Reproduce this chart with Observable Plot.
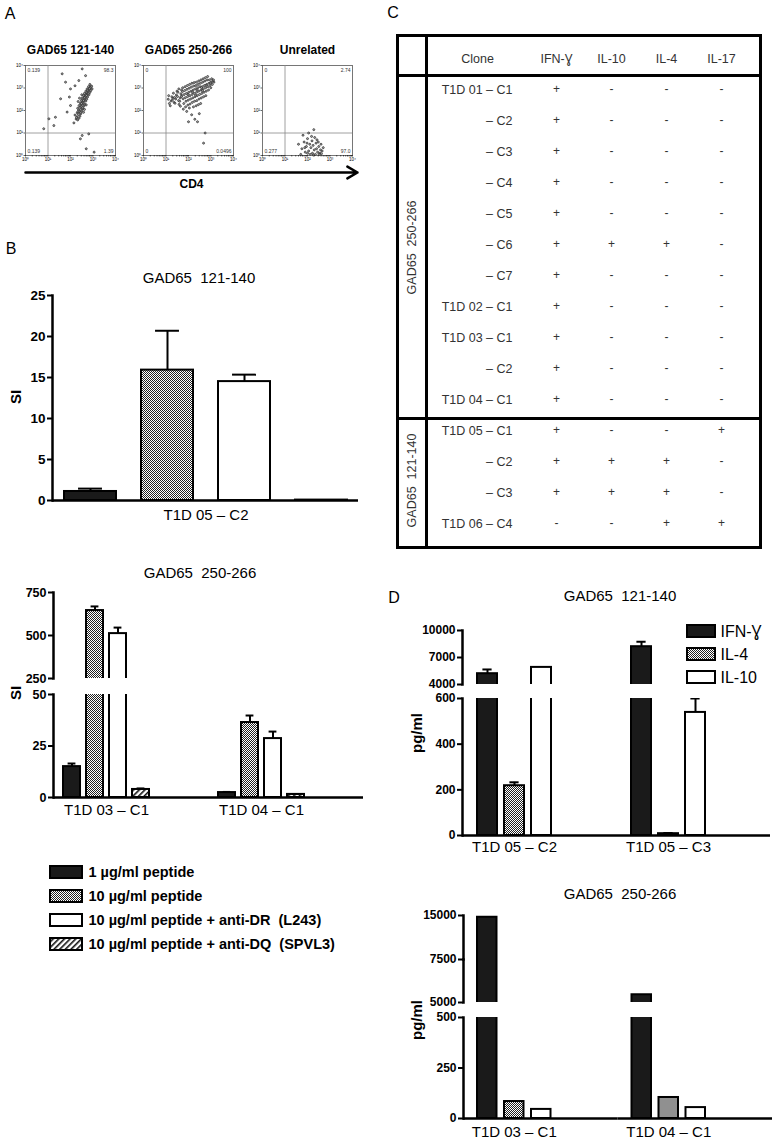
<!DOCTYPE html>
<html>
<head>
<meta charset="utf-8">
<script src="https://cdn.jsdelivr.net/npm/d3@7"></script>
<script src="https://cdn.jsdelivr.net/npm/@observablehq/plot@0.6"></script>
<style>
html,body{margin:0;padding:0;background:#fff;}
#root{position:relative;width:778px;height:1142px;overflow:hidden;background:#fff;font-family:"Liberation Sans",Arial,Helvetica,sans-serif;}
</style>
</head>
<body>
<svg width="0" height="0" style="position:absolute">
<defs>
<pattern id="pCheck" width="2" height="2" patternUnits="userSpaceOnUse"><rect width="2" height="2" fill="#fff"/><rect x="0" y="0" width="1" height="1" fill="#222"/><rect x="1" y="1" width="1" height="1" fill="#222"/></pattern>
<pattern id="pHatch" width="4" height="4" patternUnits="userSpaceOnUse" patternTransform="rotate(45)"><rect width="4" height="4" fill="#fff"/><rect width="1.6" height="4" fill="#111"/></pattern>
</defs>
</svg>
<div id="root"></div>
<script>
// ================= DATA =================
// Panel A – flow cytometry (log10 coordinates of events)
const flowTitles = ["GAD65 121-140", "GAD65 250-266", "Unrelated"];
const flowCorners = [["0.139","98.3","0.139","1.39"],["0","100","0","0.0496"],["0","2.74","0.277","97.0"]];
const flowAxisLabel = "CD4";
const flowGAD121 = [
[2.25,1.62],[2.32,1.58],[2.38,1.66],[2.28,1.72],[2.42,1.75],[2.20,1.80],[2.35,1.82],[2.46,1.86],[2.30,1.90],[2.40,1.95],
[2.50,1.98],[2.36,2.02],[2.45,2.05],[2.55,2.08],[2.32,2.10],[2.42,2.14],[2.50,2.18],[2.60,2.20],[2.38,2.22],[2.47,2.26],
[2.56,2.30],[2.64,2.28],[2.44,2.33],[2.52,2.38],[2.60,2.40],[2.68,2.42],[2.48,2.45],[2.56,2.48],[2.64,2.52],[2.72,2.50],
[2.52,2.56],[2.60,2.60],[2.68,2.62],[2.76,2.60],[2.58,2.68],[2.66,2.70],[2.74,2.72],[2.82,2.70],[2.62,2.76],[2.70,2.80],
[2.78,2.82],[2.86,2.80],[2.68,2.86],[2.76,2.90],[2.84,2.92],[2.90,2.88],[2.74,2.96],[2.82,3.00],[2.90,3.02],[2.96,2.96],
[2.80,3.06],[2.88,3.10],[2.94,3.08],[2.86,3.16],[2.50,2.70],[2.40,2.55],[2.34,2.40],[2.58,1.92],[2.62,2.05],[2.70,2.25],
[2.27,1.68],[2.44,1.90],[2.53,2.12],[2.49,2.31],[2.58,2.44],[2.63,2.57],[2.71,2.67],[2.79,2.77],[2.85,2.97],[2.33,1.95],
[1.63,3.63],[2.52,3.85],[1.78,3.26],[2.00,2.96],[2.37,3.33],[1.56,2.52],[1.33,1.70],[1.04,1.63],[0.81,1.19],[1.26,1.33],
[2.52,0.89],[2.81,0.96],[2.44,0.74],[1.85,1.93],[2.00,2.22],[2.67,3.55],[2.20,3.10],[1.95,2.60],[2.15,1.45],[2.70,0.30],[3.05,0.15]
];
const flowGAD250 = [
[1.10,2.50],[1.15,2.31],[1.12,2.66],[1.22,2.42],[1.26,2.61],[1.19,2.21],[1.31,2.54],[1.36,2.36],[1.33,2.77],[1.28,2.46],
[1.43,2.51],[1.46,2.69],[1.40,2.32],[1.49,2.86],[1.51,2.62],[1.56,2.44],[1.53,2.81],[1.58,2.27],[1.57,2.96],
[1.63,2.56],[1.66,2.74],[1.61,2.41],[1.69,2.91],[1.64,2.19],[1.71,2.66],[1.76,2.52],[1.73,2.84],[1.79,2.31],[1.74,3.01],[1.77,2.06],
[1.81,2.71],[1.86,2.57],[1.83,2.89],[1.89,2.41],[1.85,3.06],[1.87,2.16],[1.91,2.76],[1.96,2.62],[1.93,2.94],[1.99,2.46],[1.95,3.11],[1.97,2.24],[1.92,1.96],
[2.01,2.81],[2.06,2.66],[2.03,2.99],[2.09,2.51],[2.05,3.16],[2.07,2.29],[2.04,2.11],[2.11,2.86],[2.16,2.71],[2.13,3.04],[2.19,2.56],[2.15,3.21],[2.17,2.36],[2.14,1.81],
[2.21,2.91],[2.26,2.76],[2.23,3.09],[2.29,2.61],[2.25,3.24],[2.27,2.41],[2.22,2.16],[2.28,1.61],[2.31,2.96],[2.36,2.81],[2.33,3.11],[2.39,2.66],[2.35,3.26],[2.37,2.44],[2.34,2.21],
[2.41,3.01],[2.46,2.86],[2.43,3.16],[2.49,2.71],[2.45,3.31],[2.47,2.51],[2.44,2.26],[2.48,1.86],[2.51,3.06],[2.56,2.91],[2.53,3.21],[2.59,2.76],[2.55,3.36],[2.57,2.56],[2.54,2.31],
[2.61,3.06],[2.66,2.96],[2.63,3.26],[2.69,2.81],[2.65,3.41],[2.67,2.61],[2.71,3.11],[2.76,3.01],[2.73,3.31],[2.79,2.86],[2.75,3.46],[2.77,2.66],
[2.81,3.16],[2.86,3.06],[2.83,3.36],[2.89,2.91],[2.85,3.51],[2.91,3.21],[2.96,3.11],[2.93,3.36],[2.99,3.01],[3.01,3.26],[3.06,3.16],[3.03,3.41],[3.09,3.31],[3.13,3.26],[3.11,3.36],
[1.38,2.58],[1.68,2.62],[1.98,2.72],[2.18,2.82],[2.38,2.92],[2.58,3.02],[2.78,3.12],[2.98,3.22],[2.62,2.88],[2.32,2.68],
[2.74,1.00],[2.67,0.55],[2.00,1.50],[2.40,1.50]
];
const flowUnrelated = [
[1.60,0.50],[1.75,0.30],[1.85,0.60],[1.90,0.15],[1.95,0.40],[2.00,0.75],[2.05,0.20],[2.10,0.50],[2.12,0.05],[2.15,0.35],
[2.20,0.65],[2.22,0.10],[2.25,0.45],[2.30,0.25],[2.32,0.80],[2.35,0.05],[2.38,0.55],[2.40,0.30],[2.45,0.15],[2.48,0.60],
[2.50,0.40],[2.55,0.10],[2.58,0.25],[2.60,0.50],[2.65,0.20],[2.70,0.35],[1.80,0.90],[2.05,1.00],[2.28,1.15],[1.70,0.05],
[2.00,0.10],[2.18,0.85],[2.42,0.70],[1.98,0.55],[2.26,0.02],[2.52,0.05],[1.88,0.35],[2.62,0.08]
];

// Panel B – proliferation (SI)
const condsB = ["1 µg/ml peptide","10 µg/ml peptide","10 µg/ml peptide + anti-DR  (L243)","10 µg/ml peptide + anti-DQ  (SPVL3)"];
const fillsB = ["#1a1a1a","url(#pCheck)","#ffffff","url(#pHatch)"];
const bTopTitle = "GAD65  121-140";
const bTopGroups = ["T1D 05 – C2"];
const bTopValues = [[1.1, 15.9, 14.5, 0.05]];
const bTopErrors = [[0.35, 4.8, 0.85, 0]];
const bBotTitle = "GAD65  250-266";
const bBotGroups = ["T1D 03 – C1","T1D 04 – C1"];
const bBotValues = [[15.0, 645, 511, 3.9],[2.4, 36.4, 28.6, 1.5]];
const bBotErrors = [[1.5, 24, 35, 0.5],[0.3, 3.4, 3.4, 0.2]];

// Panel C – cytokine table
const tableCols = ["Clone","IFN-Ɣ","IL-10","IL-4","IL-17"];
const tableClones = ["T1D 01 – C1","– C2","– C3","– C4","– C5","– C6","– C7","T1D 02 – C1","T1D 03 – C1","– C2","T1D 04 – C1","T1D 05 – C1","– C2","– C3","T1D 06 – C4"];
const tableIFN  = ["+","+","+","+","+","+","+","+","+","+","+","+","+","+","-"];
const tableIL10 = ["-","-","-","-","-","+","-","-","-","-","-","-","+","+","-"];
const tableIL4  = ["-","-","-","-","-","+","-","-","-","-","-","-","+","+","+"];
const tableIL17 = ["-","-","-","-","-","-","-","-","-","-","-","+","-","-","+"];
const tableGroups = ["GAD65  250-266","GAD65  121-140"];
const tableGroupSizes = [11, 4];

// Panel D – cytokine secretion (pg/ml)
const condsD = ["IFN-Ɣ","IL-4","IL-10"];
const fillsD = ["#1a1a1a","url(#pCheck)","#ffffff"];
const dTopTitle = "GAD65  121-140";
const dTopGroups = ["T1D 05 – C2","T1D 05 – C3"];
const dTopValues = [[5200, 218, 5900],[8200, 8, 539]];
const dTopErrors = [[470, 15, 0],[550, 3, 61]];
const dBotTitle = "GAD65  250-266";
const dBotGroups = ["T1D 03 – C1","T1D 04 – C1"];
const dBotValues = [[14700, 84, 45],[5450, 104, 54]];
const dBotErrors = [[0, 0, 0],[0, 0, 0]];

// ================= HELPERS =================
const FONT = '"Liberation Sans", Arial, Helvetica, sans-serif';
const root = document.getElementById("root");

function label(text, cx, cy, {size = 15, weight = "normal", rotate = 0, color = "#000"} = {}) {
  const d = document.createElement("div");
  d.textContent = text;
  Object.assign(d.style, {position: "absolute", left: cx + "px", top: cy + "px",
    transform: `translate(-50%,-50%) rotate(${rotate}deg)`, fontSize: size + "px", fontWeight: weight,
    whiteSpace: "pre", lineHeight: "1", fontFamily: FONT, color});
  root.appendChild(d);
}

function framed(opts, f, m) {
  const svg = Plot.plot({
    ...opts,
    width: m.l + (f.x1 - f.x0) + m.r,
    height: m.t + (f.y1 - f.y0) + m.b,
    marginLeft: m.l, marginRight: m.r, marginTop: m.t, marginBottom: m.b,
    style: {background: "transparent", overflow: "visible", fontFamily: FONT, color: "#000", maxWidth: "none"}
  });
  svg.style.position = "absolute";
  svg.style.left = (f.x0 - m.l) + "px";
  svg.style.top = (f.y0 - m.t) + "px";
  root.appendChild(svg);
  return svg;
}

// ================= PANEL A =================
const supers = ["⁰","¹","²","³","⁴"];
const logTicks = d3.scaleLog().domain([1, 1e4]).ticks();
const powFmt = d => { const e = Math.log10(d); return Math.abs(e - Math.round(e)) < 1e-9 ? "10" + supers[Math.round(e)] : ""; };
const cornerAnchors = ["top-left","top-right","bottom-left","bottom-right"];

function flowPlot(points, title, corners, f) {
  framed({
    x: {type: "log", domain: [1, 1e4]},
    y: {type: "log", domain: [1, 1e4]},
    marks: [
      Plot.frame({stroke: "#555", strokeWidth: 0.8}),
      Plot.ruleX([10], {stroke: "#888", strokeWidth: 0.8}),
      Plot.ruleY([10], {stroke: "#888", strokeWidth: 0.8}),
      Plot.dot(points, {x: d => 10 ** d[0], y: d => 10 ** d[1], r: 1, stroke: "#222", strokeWidth: 0.7, fill: "#aaa"}),
      Plot.axisX({ticks: logTicks, tickFormat: powFmt, tickSize: 1.5, tickPadding: 1, fontSize: 4.5, strokeWidth: 0.6, label: null}),
      Plot.axisY({ticks: [1, 10, 100, 1000, 10000], tickFormat: powFmt, tickSize: 1.5, tickPadding: 1, fontSize: 4.5, strokeWidth: 0.6, label: null}),
      ...corners.map((c, i) => Plot.text([c], {frameAnchor: cornerAnchors[i], dx: i % 2 ? -2 : 2, dy: i < 2 ? 3 : -3, fontSize: 5, fill: "#333"})),
      Plot.text([title], {frameAnchor: "top", dy: -15, lineAnchor: "middle", fontSize: 12, fontWeight: "bold"})
    ]
  }, f, {l: 12, t: 24, r: 4, b: 9});
}
flowPlot(flowGAD121, flowTitles[0], flowCorners[0], {x0: 25, y0: 65, x1: 115, y1: 155});
flowPlot(flowGAD250, flowTitles[1], flowCorners[1], {x0: 143, y0: 65, x1: 233, y1: 155});
flowPlot(flowUnrelated, flowTitles[2], flowCorners[2], {x0: 262, y0: 65, x1: 352, y1: 155});

framed({
  x: {domain: [0, 1], axis: null}, y: {domain: [-1, 1], axis: null},
  marks: [
    Plot.arrow([0], {x1: 0, x2: 1, y1: 0, y2: 0, strokeWidth: 2.5, headLength: 7}),
    Plot.text([flowAxisLabel], {frameAnchor: "bottom", lineAnchor: "middle", fontSize: 12, fontWeight: "bold"})
  ]
}, {x0: 25, y0: 160, x1: 357, y1: 184}, {l: 0, t: 0, r: 4, b: 8});

// ================= BAR SECTIONS (B, D) =================
function bandParams(facetW, n, step, bw, start) {
  const pi = 1 - bw / step;
  const po = (facetW / step - n + pi) / 2;
  const align = start / (facetW - step * (n - pi));
  return {paddingInner: pi, paddingOuter: po, align, round: false};
}

const MT = 6;
function barSection({groups, conds, fills, values, errors, frame, y, ticks, band, labels, labelDy, tickFont, baseline}) {
  const data = groups.flatMap((g, i) => conds.map((c, j) => ({group: g, cond: c, value: values[i][j], err: errors[i][j]})));
  const errData = data.filter(d => d.err > 0);
  const facetW = (frame.x1 - frame.x0) / groups.length;
  const midIdx = Math.floor((conds.length - 1) / 2);
  const labelDx = conds.length % 2 === 0 ? band.step / 2 : 0;
  return framed({
    fx: {domain: groups, padding: 0, round: false, axis: null},
    x: {domain: conds, ...bandParams(facetW, conds.length, band.step, band.bw, band.start), axis: null},
    y,
    color: {domain: conds, range: fills},
    marks: [
      Plot.barY(data, {fx: "group", x: "cond", y1: 0, y2: "value", fill: "cond", stroke: "#000", strokeWidth: 2, clip: true}),
      Plot.ruleX(errData, {fx: "group", x: "cond", y1: "value", y2: d => d.value + d.err, stroke: "#000", strokeWidth: 2, clip: true}),
      Plot.tickY(errData, {fx: "group", x: "cond", y: d => d.value + d.err, stroke: "#000", strokeWidth: 2, inset: band.bw * 0.27, clip: true}),
      ticks.length ? Plot.axisY({ticks, tickSize: 5, tickPadding: 2, strokeWidth: 2, fontSize: tickFont, fontWeight: "bold", label: null, tickFormat: d => String(d)}) : null,
      Plot.frame({anchor: "left", facetAnchor: "left", strokeWidth: 2.5}),
      baseline ? Plot.ruleY([0], {strokeWidth: 2.5}) : null,
      labels ? Plot.text(groups, {fx: d => d, x: () => conds[midIdx], text: d => d, frameAnchor: "bottom", lineAnchor: "middle", dy: labelDy, dx: labelDx, fontSize: 15}) : null
    ]
  }, frame, {l: 45, t: MT, r: 6, b: labels ? 28 : 4});
}

// Panel B top
barSection({groups: bTopGroups, conds: condsB, fills: fillsB, values: bTopValues, errors: bTopErrors,
  frame: {x0: 52, y0: 295, x1: 358, y1: 500}, y: {domain: [0, 25], axis: null}, ticks: [0, 5, 10, 15, 20, 25],
  band: {step: 77, bw: 52, start: 12}, labels: true, labelDy: 15, tickFont: 13.5, baseline: true});
// Panel B bottom (broken axis)
barSection({groups: bBotGroups, conds: condsB, fills: fillsB, values: bBotValues, errors: bBotErrors,
  frame: {x0: 53, y0: 592, x1: 363, y1: 678}, y: {domain: [250, 750], axis: null}, ticks: [250, 500, 750],
  band: {step: 23, bw: 17, start: 10}, labels: false, tickFont: 12.5, baseline: false});
barSection({groups: bBotGroups, conds: condsB, fills: fillsB, values: bBotValues, errors: bBotErrors,
  frame: {x0: 53, y0: 694, x1: 363, y1: 797}, y: {domain: [0, 50], axis: null}, ticks: [0, 25, 50],
  band: {step: 23, bw: 17, start: 10}, labels: true, labelDy: 13, tickFont: 12.5, baseline: true});
// Panel D top
barSection({groups: dTopGroups, conds: condsD, fills: fillsD, values: dTopValues, errors: dTopErrors,
  frame: {x0: 462, y0: 630, x1: 770, y1: 684}, y: {domain: [4000, 10000], axis: null}, ticks: [4000, 7000, 10000],
  band: {step: 27, bw: 20, start: 15}, labels: false, tickFont: 12, baseline: false});
barSection({groups: dTopGroups, conds: condsD, fills: fillsD, values: dTopValues, errors: dTopErrors,
  frame: {x0: 462, y0: 698, x1: 770, y1: 835}, y: {domain: [0, 600], axis: null}, ticks: [0, 200, 400, 600],
  band: {step: 27, bw: 20, start: 15}, labels: true, labelDy: 12, tickFont: 12, baseline: true});
// Panel D bottom (upper broken segment has two linear pieces: 5000–7500 and 7500–15000)
barSection({groups: dBotGroups, conds: condsD, fills: fillsD, values: dBotValues, errors: dBotErrors,
  frame: {x0: 463, y0: 915, x1: 772, y1: 959}, y: {domain: [7500, 15000], axis: null}, ticks: [7500, 15000],
  band: {step: 27, bw: 19.5, start: 14}, labels: false, tickFont: 12, baseline: false});
barSection({groups: dBotGroups, conds: condsD, fills: fillsD, values: dBotValues, errors: dBotErrors,
  frame: {x0: 463, y0: 959, x1: 772, y1: 1002}, y: {domain: [5000, 7500], axis: null}, ticks: [5000],
  band: {step: 27, bw: 19.5, start: 14}, labels: false, tickFont: 12, baseline: false});
barSection({groups: dBotGroups, conds: condsD, fills: fillsD, values: dBotValues, errors: dBotErrors,
  frame: {x0: 463, y0: 1017, x1: 772, y1: 1118}, y: {domain: [0, 500], axis: null}, ticks: [0, 250, 500],
  band: {step: 27, bw: 19.5, start: 14}, labels: true, labelDy: 14, tickFont: 12, baseline: true});

// ================= LEGENDS =================
function legendPlot(labels, fills, f, {fontSize, fontWeight, dx, r}) {
  framed({
    x: {domain: [""], padding: 0, axis: null},
    y: {domain: labels, paddingInner: 0.5, paddingOuter: 0.25, axis: null},
    color: {domain: labels, range: fills},
    marks: [
      Plot.cell(labels, {x: () => "", y: d => d, fill: d => d, stroke: "#000", strokeWidth: 2}),
      Plot.text(labels, {y: d => d, frameAnchor: "right", dx, textAnchor: "start", fontSize, fontWeight})
    ]
  }, f, {l: 2, t: 2, r, b: 2});
}
legendPlot(condsB, fillsB, {x0: 50, y0: 860, x1: 82, y1: 956}, {fontSize: 14.5, fontWeight: "bold", dx: 6, r: 300});
legendPlot(condsD, fillsD, {x0: 687, y0: 619, x1: 715, y1: 688}, {fontSize: 16, fontWeight: "normal", dx: 5, r: 60});

// ================= PANEL C TABLE =================
const rowIdx = tableClones.map((_, i) => i);
const cytoCols = tableCols.slice(1);
const cytoVals = [tableIFN, tableIL10, tableIL4, tableIL17];
const cells = rowIdx.flatMap(i => cytoCols.map((c, j) => ({row: i, col: c, val: cytoVals[j][i]})));
const g1End = tableGroupSizes[0] - 1;
framed({
  x: {type: "point", domain: tableCols, padding: 0, insetLeft: 103, insetRight: 38, axis: null},
  y: {type: "point", domain: ["hdr", ...rowIdx], padding: 0, insetTop: 16, insetBottom: 18, axis: null},
  marks: [
    Plot.frame({strokeWidth: 3}),
    Plot.ruleY(["hdr"], {dy: 17, strokeWidth: 3}),
    Plot.ruleY([g1End], {dy: 19, strokeWidth: 3}),
    Plot.ruleX(["Clone"], {dx: -75, strokeWidth: 3}),
    Plot.text(cytoCols, {x: d => d, y: () => "hdr", fontSize: 12.5, fill: "#333"}),
    Plot.text(["Clone"], {x: d => d, y: () => "hdr", dx: -24, fontSize: 12.5, fill: "#333"}),
    Plot.text(rowIdx, {x: () => "Clone", y: d => d, text: i => tableClones[i], textAnchor: "end", dx: 11, fontSize: 12.5, fill: "#333"}),
    Plot.text(cells, {x: "col", y: "row", text: "val", fontSize: 12, fill: "#333"}),
    Plot.text([tableGroups[0]], {y: () => Math.floor(g1End / 2), frameAnchor: "left", textAnchor: "middle", dx: 14, dy: 3, rotate: -90, fontSize: 12.5, fill: "#333"}),
    Plot.text([tableGroups[1]], {y: () => g1End + 2, frameAnchor: "left", textAnchor: "middle", dx: 14, dy: 19, rotate: -90, fontSize: 12.5, fill: "#333"})
  ]
}, {x0: 397, y0: 35, x1: 760, y1: 547}, {l: 3, t: 3, r: 3, b: 3});

// ================= TEXT LABELS =================
label("A", 10, 14, {size: 16});
label("B", 11, 249, {size: 16});
label("C", 393, 13, {size: 16});
label("D", 394, 598, {size: 16});
label(bTopTitle, 199, 277);
label(bBotTitle, 200, 572);
label(dTopTitle, 620, 595);
label(dBotTitle, 620, 893);
label("SI", 15, 397, {rotate: -90, weight: "bold"});
label("SI", 15, 693, {rotate: -90, weight: "bold"});
label("pg/ml", 416, 733, {rotate: -90, weight: "bold"});
label("pg/ml", 416, 1020, {rotate: -90, weight: "bold"});
</script>
</body>
</html>
